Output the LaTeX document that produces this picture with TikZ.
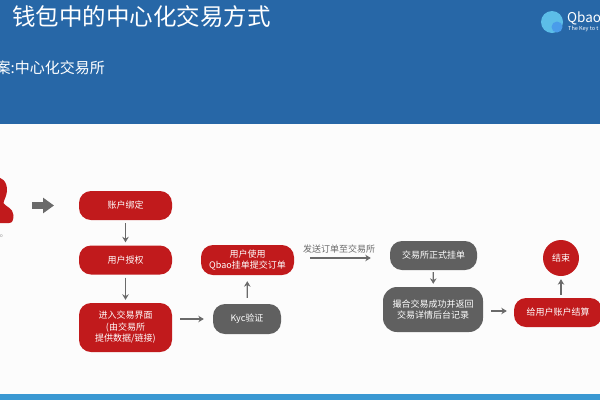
\documentclass[tikz,border=0pt]{standalone}
\usepackage{fontspec}
\setmainfont{Noto Sans CJK SC}
\usetikzlibrary{arrows.meta}
\definecolor{bandblue}{HTML}{2767A7}
\definecolor{stripblue}{HTML}{3A98D2}
\definecolor{boxred}{HTML}{C11A1C}
\definecolor{boxgrey}{HTML}{606060}
\definecolor{linegrey}{HTML}{6A6A6A}
\definecolor{logoouter}{HTML}{5CBDE8}
\definecolor{logoinner}{HTML}{4A9CEA}
\newcommand{\on}{boxred}
\newcommand{\off}{boxgrey}
\tikzset{
  stepbox/.style = {draw=none, fill=\on, rounded corners=12pt, text=white, align=center, font=\fontsize{9}{11.5}\selectfont, inner sep=0pt},
  greybox/.style = {stepbox, fill=\off},
  flow/.style = {draw=linegrey, line width=1.2pt, -{Stealth[length=5.5pt,width=6.5pt]}},
}

\begin{document}
\begin{tikzpicture}[x=1pt,y=-1pt]
        \useasboundingbox (0,0) rectangle (600,400);
        \clip (0,0) rectangle (600,400);
        \fill[white!99!black] (0,0) rectangle (600,400);
        \fill[bandblue] (0,0) rectangle (600,124);
        \fill[stripblue] (0,394) rectangle (600,400);
        % header
        \node[text=white, anchor=west, font=\fontsize{23.5}{26}\selectfont, inner sep=0pt] (title) at (12,17) {钱包中的中心化交易方式};
        \node[text=white, anchor=east, font=\fontsize{15}{18}\selectfont, inner sep=0pt] (subtitle) at (105,68) {案:中心化交易所};
        % logo
        \fill[logoouter] (552,22) circle (11);
        \fill[logoinner] (557,27) circle (5.5);
        \node[text=white, anchor=west, font=\fontsize{13.5}{16}\selectfont, inner sep=0pt] (brand) at (567,18) {Qbao};
        \node[text=white, anchor=west, font=\fontsize{5.5}{7}\selectfont, inner sep=0pt] (motto) at (568,29) {The Key to t};
        % user
        \fill[\on] (-6,223) -- (-6,177) .. controls (2,176) and (7.5,182) .. (7,191)
            .. controls (6.5,196) and (4,200) .. (3.5,203)
            .. controls (6,207) and (13,208) .. (13.5,215)
            .. controls (13.5,221) and (12,223) .. (9,223) -- cycle;
        \node[text=linegrey!70, anchor=east, font=\fontsize{5}{6}\selectfont, inner sep=0pt] (username) at (3,236) {o};
        \coordinate (usertail) at (32,205.5);
        \coordinate (userhead) at (54,205.5);
        \draw[line width=7.5pt, draw=linegrey, -{Triangle[length=11pt,width=15pt]}] (usertail) -- (userhead);
        % left column
        \node[stepbox, minimum width=93pt, minimum height=29pt] (bind) at (125.5,205.5) {账户绑定};
        \node[stepbox, minimum width=93pt, minimum height=29pt] (auth) at (125.5,260) {用户授权};
        \node[stepbox, minimum width=93pt, minimum height=49pt] (enter) at (125.5,327.5) {进入交易界面\\(由交易所\\提供数据/链接)};
        \node[greybox, minimum width=68pt, minimum height=30pt] (kyc) at (247,319) {Kyc验证};
        \node[stepbox, minimum width=93pt, minimum height=30pt] (order) at (247.5,260) {用户使用\\Qbao挂单提交订单};
        % right part
        \node[greybox, minimum width=87pt, minimum height=29pt] (listing) at (433.5,255.5) {交易所正式挂单};
        \node[greybox, minimum width=100pt, minimum height=45pt, rounded corners=14pt] (match) at (433,309.5) {撮合交易成功并返回\\交易详情后台记录};
        \node[stepbox, minimum width=88pt, minimum height=29pt] (settle) at (558,312.5) {给用户账户结算};
        \node[stepbox, circle, minimum size=36pt] (finish) at (561,258) {结束};
        \node[text=linegrey, font=\fontsize{9}{11}\selectfont, inner sep=0pt] (sendlabel) at (339,249) {发送订单至交易所};
        % arrows
        \draw[flow, shorten <=3pt, shorten >=3pt] (bind) -- (auth);
        \draw[flow, shorten <=3pt, shorten >=3pt] (auth) -- (enter);
        \draw[flow, shorten <=8pt, shorten >=9pt] ([yshift=8.5pt]enter.east) -- (kyc.west);
        \draw[flow, shorten <=6pt, shorten >=6pt] (kyc) -- (order);
        \draw[flow, shorten <=16pt, shorten >=19pt] ([yshift=2pt]order.east) -- ([yshift=-2.5pt]listing.west);
        \draw[flow, shorten <=2pt, shorten >=3pt] (listing) -- (match);
        \draw[flow, shorten <=8pt, shorten >=7pt] ([yshift=-1.5pt]match.east) -- ([yshift=1.5pt]settle.west);
        \draw[flow, shorten <=3pt, shorten >=3pt] (settle.north -| finish) -- (finish);
    \end{tikzpicture}
\end{document}
